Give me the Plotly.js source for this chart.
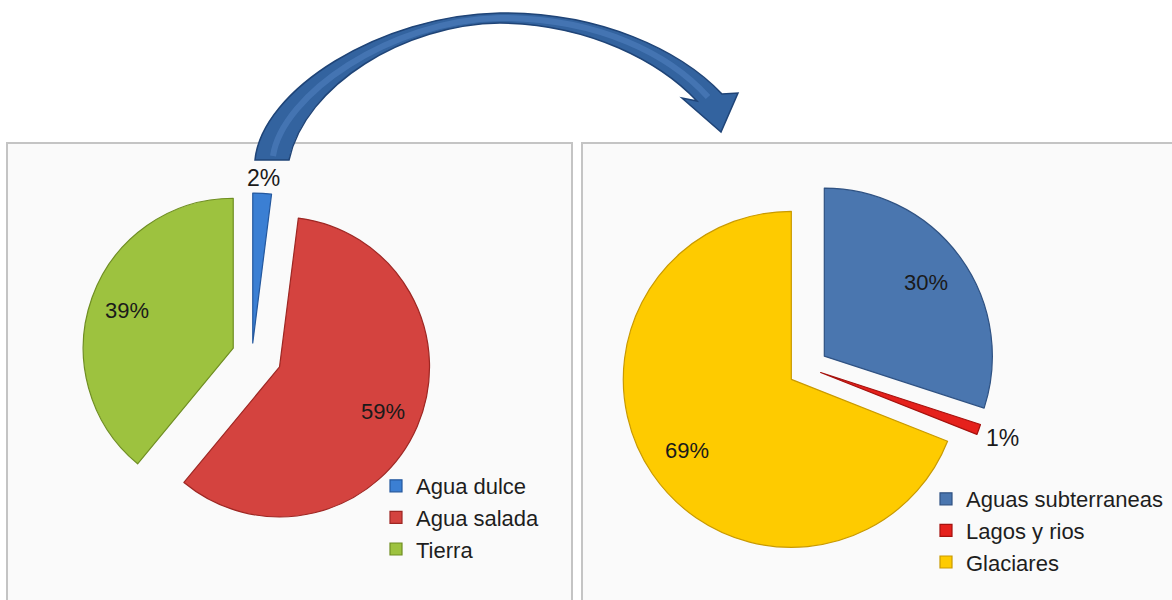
<!DOCTYPE html>
<html>
<head>
<meta charset="utf-8">
<script src="https://cdn.plot.ly/plotly-3.0.1.min.js"></script>
<style>
  html, body { margin: 0; padding: 0; background: #ffffff; }
  #chart { width: 1172px; height: 600px; }
</style>
</head>
<body>
<div id="chart"></div>
<script>
// ---- data ----
const leftLabels = ['Agua dulce', 'Agua salada', 'Tierra'];
const leftValues = [2, 59, 39];
const rightLabels = ['Aguas subterraneas', 'Lagos y rios', 'Glaciares'];
const rightValues = [30, 1, 69];

// ---- styles ----
const W = 1172, H = 600;
const leftColors = ['#3b7fd3', '#d4433f', '#9dc23f'];
const leftLines = ['#24589e', '#9e2723', '#6f8e22'];
const rightColors = ['#4a76af', '#e5211c', '#fecb00'];
const rightLines = ['#2f5283', '#a5120e', '#c99a00'];
const leftPull = [0.08, 0.2, 0.133];
const rightPull = [0.12, 0.08, 0.12];
const leftTextPos = ['outside', 'inside', 'inside'];
const rightTextPos = ['inside', 'outside', 'inside'];
const leftDomain = { x: [72 / W, 432 / W], y: [1 - 535 / H, 1 - 175 / H] };
const rightDomain = { x: [619.8 / W, 996.2 / W], y: [1 - 556.2 / H, 1 - 179.8 / H] };
const FONT = 'Liberation Sans, Arial, sans-serif';

// helper: pixel -> paper fraction (margins are zero)
function P(x, y) { return (x / W).toFixed(5) + ',' + (1 - y / H).toFixed(5); }

// percent labels placed along each slice's bisector (same geometry as the pie)
function sliceLabels(values, pulls, domain, textPos) {
  const total = values.reduce((a, b) => a + b, 0);
  const bw = (domain.x[1] - domain.x[0]) * W;
  const bh = (domain.y[1] - domain.y[0]) * H;
  const maxPull = Math.max.apply(null, pulls);
  const r = Math.min(bw, bh) / (2 + 2 * maxPull);
  const cx = (domain.x[0] + domain.x[1]) / 2 * W;
  const cy = (1 - (domain.y[0] + domain.y[1]) / 2) * H;
  const out = [];
  let cum = 0;
  values.forEach((v, i) => {
    const mid = (cum + v / 2) / total * 2 * Math.PI;
    cum += v;
    const dx = Math.sin(mid), dy = -Math.cos(mid);
    const isOut = textPos[i] === 'outside';
    const dist = isOut
      ? pulls[i] * r + r + Math.abs(dx) * 18.5 + Math.abs(dy) * 10 + 4
      : pulls[i] * r + 0.75 * r;
    out.push({
      xref: 'paper', yref: 'paper',
      x: (cx + dx * dist) / W, y: 1 - (cy + dy * dist) / H,
      xanchor: 'center', yanchor: 'middle',
      text: Math.round(v / total * 100) + '%',
      showarrow: false,
      font: { family: FONT, size: isOut ? 23 : 22, color: '#1a1a1a' }
    });
  });
  return out;
}

const arrowPath =
  'M' + P(255, 160) +
  ' C' + P(262, 90) + ' ' + P(380, 15) + ' ' + P(500, 13) +
  ' C' + P(600, 12) + ' ' + P(680, 50) + ' ' + P(722, 94) +
  ' L' + P(738, 93) +
  ' L' + P(721, 132) +
  ' L' + P(682, 98) +
  ' L' + P(697, 101) +
  ' C' + P(660, 62) + ' ' + P(590, 24) + ' ' + P(500, 23) +
  ' C' + P(405, 24) + ' ' + P(305, 85) + ' ' + P(289, 160) +
  ' Z';

const arrowHighlight =
  'M' + P(273, 156) +
  ' C' + P(282, 95) + ' ' + P(390, 20) + ' ' + P(500, 18) +
  ' C' + P(600, 18) + ' ' + P(670, 55) + ' ' + P(708, 97);

const traces = [
  {
    type: 'pie',
    labels: leftLabels,
    values: leftValues,
    sort: false,
    direction: 'clockwise',
    rotation: 0,
    pull: leftPull,
    marker: { colors: leftColors, line: { color: leftLines, width: 1.2 } },
    textinfo: 'none',
    domain: leftDomain,
    hoverinfo: 'skip',
    legend: 'legend',
    showlegend: true
  },
  {
    type: 'pie',
    labels: rightLabels,
    values: rightValues,
    sort: false,
    direction: 'clockwise',
    rotation: 0,
    pull: rightPull,
    marker: { colors: rightColors, line: { color: rightLines, width: 1.2 } },
    textinfo: 'none',
    domain: rightDomain,
    hoverinfo: 'skip',
    legend: 'legend2',
    showlegend: true
  }
];

const layout = {
  width: W,
  height: H,
  margin: { l: 0, r: 0, t: 0, b: 0 },
  paper_bgcolor: '#ffffff',
  plot_bgcolor: '#ffffff',
  font: { family: FONT, color: '#222222' },
  legend: {
    x: 376 / W, xanchor: 'left',
    y: 1 - 465 / H, yanchor: 'top',
    bgcolor: 'rgba(0,0,0,0)',
    font: { family: FONT, size: 22, color: '#1e1e1e' },
    traceorder: 'normal'
  },
  legend2: {
    x: 926 / W, xanchor: 'left',
    y: 1 - 478 / H, yanchor: 'top',
    bgcolor: 'rgba(0,0,0,0)',
    font: { family: FONT, size: 22, color: '#1e1e1e' },
    traceorder: 'normal'
  },
  annotations: sliceLabels(leftValues, leftPull, leftDomain, leftTextPos)
    .concat(sliceLabels(rightValues, rightPull, rightDomain, rightTextPos)),
  shapes: [
    { type: 'rect', xref: 'paper', yref: 'paper', layer: 'below',
      x0: 7 / W, x1: 572 / W, y0: 1 - 610 / H, y1: 1 - 143 / H,
      fillcolor: '#fafafa', line: { color: '#c4c4c4', width: 2 } },
    { type: 'rect', xref: 'paper', yref: 'paper', layer: 'below',
      x0: 582 / W, x1: 1185 / W, y0: 1 - 610 / H, y1: 1 - 143 / H,
      fillcolor: '#fafafa', line: { color: '#c4c4c4', width: 2 } },
    { type: 'path', xref: 'paper', yref: 'paper', layer: 'above',
      path: arrowPath, fillcolor: '#33639f', line: { color: '#1f4477', width: 1.5 } },
    { type: 'path', xref: 'paper', yref: 'paper', layer: 'above',
      path: arrowHighlight, line: { color: 'rgba(100,150,215,0.35)', width: 6 } }
  ]
};

Plotly.newPlot('chart', traces, layout, { displayModeBar: false, staticPlot: true });
</script>
</body>
</html>
